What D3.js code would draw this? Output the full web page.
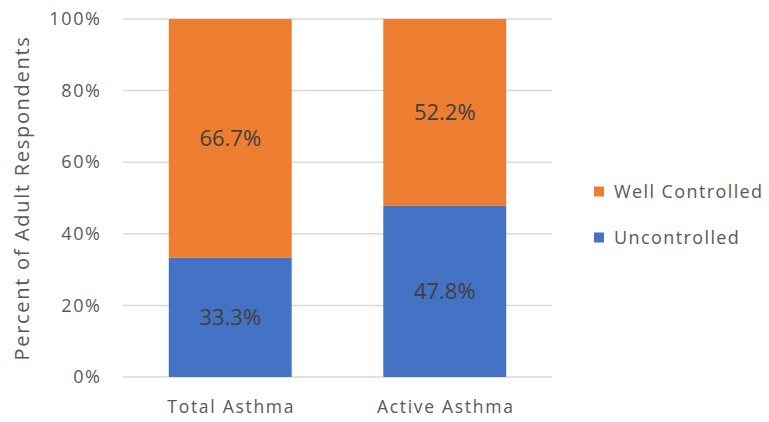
<!DOCTYPE html>
<html><head><meta charset="utf-8">
<script src="https://cdn.jsdelivr.net/npm/d3@7"></script>
<style>body{margin:0;background:#fff}svg{display:block}</style>
</head><body>
<svg id="c" width="769" height="422"></svg>
<script>
const categories = ["Total Asthma", "Active Asthma"];
const uncontrolled = [33.3, 47.8];
const wellControlled = [66.7, 52.2];
const seriesNames = ["Uncontrolled", "Well Controlled"];
const seriesColors = ["#4472C4", "#ED7D31"];
const yTicks = [0, 20, 40, 60, 80, 100];
const yTitle = "Percent of Adult Respondents";

const FONT = "'Open Sans', sans-serif";
const svg = d3.select("#c");
const m = {left: 123, right: 217, top: 19, bottom: 45};
const W = 769, H = 422;
const x = d3.scaleBand().domain(categories).range([m.left, W - m.right]).paddingInner(0.427).paddingOuter(0.2135);
const y = d3.scaleLinear().domain([0, 100]).range([H - m.bottom, m.top]);

// gridlines
svg.append("g").selectAll("line").data(yTicks).join("line")
  .attr("x1", m.left).attr("x2", W - m.right)
  .attr("y1", d => y(d)).attr("y2", d => y(d))
  .attr("stroke", "#d9d9d9").attr("stroke-width", 1.5);

// y tick labels
const yAxis = d3.axisLeft(y).tickValues(yTicks).tickFormat(d => d + "%").tickSize(0).tickPadding(21.5);
const ga = svg.append("g").attr("transform", `translate(${m.left},0)`).call(yAxis);
ga.select(".domain").remove();
ga.selectAll("text").attr("font-family", FONT).attr("font-size", 18).attr("letter-spacing", 1.6).attr("fill", "#595959");

// stacked data
const rows = categories.map((c, i) => ({cat: c, Uncontrolled: uncontrolled[i], "Well Controlled": wellControlled[i]}));
const stack = d3.stack().keys(seriesNames)(rows);
const color = d3.scaleOrdinal().domain(seriesNames).range(seriesColors);

const layers = svg.append("g").selectAll("g").data(stack).join("g").attr("fill", d => color(d.key));
layers.selectAll("rect").data(d => d).join("rect")
  .attr("x", d => x(d.data.cat)).attr("width", x.bandwidth())
  .attr("y", d => y(d[1])).attr("height", d => y(d[0]) - y(d[1]));

// labels
layers.selectAll("text").data(d => d.map(v => ({v, key: d.key}))).join("text")
  .attr("x", d => x(d.v.data.cat) + x.bandwidth() / 2)
  .attr("y", d => y((d.v[0] + d.v[1]) / 2))
  .attr("dy", "0.36em").attr("text-anchor", "middle")
  .attr("font-family", FONT).attr("font-size", 22).attr("fill", "#404040")
  .text(d => (d.v[1] - d.v[0]).toFixed(1) + "%");

// x labels
svg.append("g").selectAll("text").data(categories).join("text")
  .attr("x", d => x(d) + x.bandwidth() / 2 + 1).attr("y", 412.5)
  .attr("text-anchor", "middle")
  .attr("font-family", FONT).attr("font-size", 17.5).attr("letter-spacing", 1.7).attr("fill", "#595959")
  .text(d => d);

// y title
svg.append("text").attr("transform", `translate(29,${(y(0) + y(100)) / 2}) rotate(-90)`)
  .attr("text-anchor", "middle")
  .attr("font-family", FONT).attr("font-size", 20).attr("letter-spacing", 1.7).attr("fill", "#595959").text(yTitle);

// legend
const legendItems = ["Well Controlled", "Uncontrolled"];
const lg = svg.append("g").selectAll("g").data(legendItems).join("g")
  .attr("transform", (d, i) => `translate(594,${191.5 + i * 46})`);
lg.append("rect").attr("x", 0).attr("y", -5).attr("width", 10).attr("height", 10).attr("fill", d => color(d));
lg.append("text").attr("x", 20).attr("dy", "0.36em").attr("font-family", FONT).attr("font-size", 18).attr("letter-spacing", 1.4)
  .attr("fill", "#595959").text(d => d);
</script>
</body></html>
